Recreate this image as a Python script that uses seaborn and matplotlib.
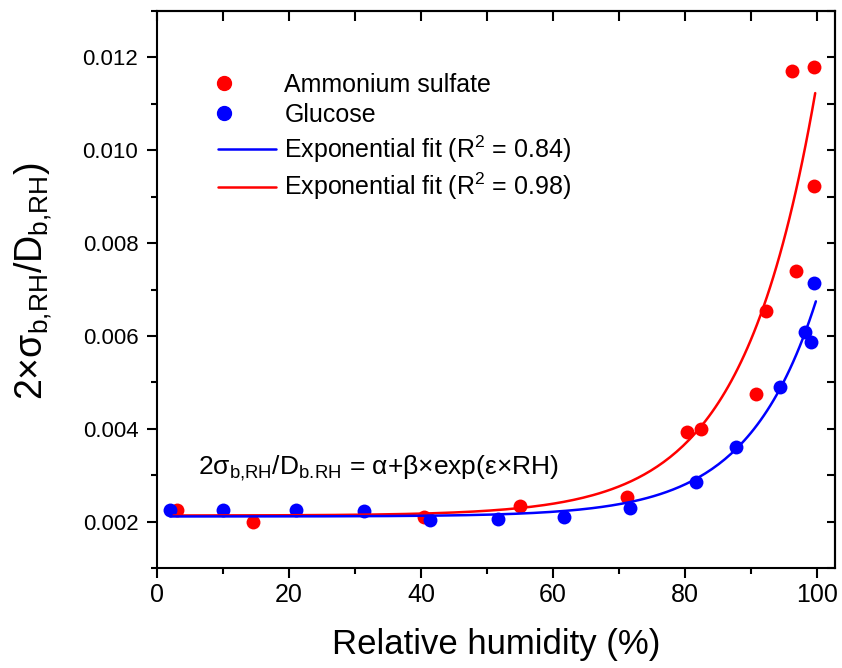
import numpy as np
import pandas as pd
import matplotlib
matplotlib.use("Agg")
import matplotlib.pyplot as plt
import seaborn as sns
from matplotlib.ticker import MultipleLocator, FormatStrFormatter
from matplotlib.lines import Line2D
from matplotlib.legend_handler import HandlerLine2D

# Ammonium sulfate measurements (red)
as_rh = [2.95, 14.5, 40.4, 55.0, 71.2, 80.3, 82.4, 90.8, 92.3, 96.8, 96.2, 99.5, 99.5]
as_val = [0.00224, 0.00199, 0.00209, 0.00233, 0.00252, 0.00392, 0.00399,
          0.00475, 0.00654, 0.00740, 0.01171, 0.01179, 0.00923]

# Glucose measurements (blue)
glu_rh = [1.95, 10.0, 21.0, 31.3, 41.4, 51.7, 61.7, 71.7, 81.7, 87.7, 94.4, 98.1, 99.1, 99.5]
glu_val = [0.00224, 0.00226, 0.00226, 0.00222, 0.00203, 0.00206, 0.00209,
           0.00229, 0.00285, 0.00361, 0.00491, 0.00609, 0.00586, 0.00715]

# exponential fit parameters: alpha, beta, epsilon, rh range
as_fit = (0.00213, 1.154e-6, 0.090, 2.5, 99.7)
glu_fit = (0.00211, 3.2e-7, 0.096, 2.0, 99.8)

sns.set_theme(style="ticks")
plt.rcParams["font.family"] = ["Liberation Sans", "DejaVu Sans"]
plt.rcParams["mathtext.fontset"] = "custom"
plt.rcParams["mathtext.rm"] = "Liberation Sans"
plt.rcParams["mathtext.it"] = "Liberation Sans:italic"
plt.rcParams["axes.linewidth"] = 1.5
for k in ["text.color", "axes.labelcolor", "xtick.color", "ytick.color", "axes.edgecolor"]:
    plt.rcParams[k] = "black"


def fit_curve(p):
    a, b, e, x0, x1 = p
    x = np.linspace(x0, x1, 200)
    return pd.DataFrame({"rh": x, "val": a + b * np.exp(e * x)})


class LeftDot(HandlerLine2D):
    # put the legend dot near the left end of the handle, like Origin does
    def get_xdata(self, legend, xdescent, ydescent, width, height, fontsize):
        x = np.array([-xdescent + 0.1 * width])
        return x, x


df_as = pd.DataFrame({"rh": as_rh, "val": as_val})
df_glu = pd.DataFrame({"rh": glu_rh, "val": glu_val})

fig, ax = plt.subplots(figsize=(8.42, 6.68), dpi=100)
fig.subplots_adjust(left=0.1865, right=0.9917, bottom=0.1497, top=0.9835)

sns.scatterplot(data=df_as, x="rh", y="val", color="#ff0000", s=100, linewidth=0, ax=ax, zorder=3)
sns.scatterplot(data=df_glu, x="rh", y="val", color="#0000ff", s=100, linewidth=0, ax=ax, zorder=4)
sns.lineplot(data=fit_curve(as_fit), x="rh", y="val", color="#ff0000", lw=1.8, ax=ax, zorder=5)
sns.lineplot(data=fit_curve(glu_fit), x="rh", y="val", color="#0000ff", lw=1.8, ax=ax, zorder=5)

ax.set_xlim(0, 102.7)
ax.set_ylim(0.001, 0.013)
ax.xaxis.set_major_locator(MultipleLocator(20))
ax.xaxis.set_minor_locator(MultipleLocator(10))
ax.yaxis.set_major_locator(MultipleLocator(0.002))
ax.yaxis.set_minor_locator(MultipleLocator(0.001))
ax.yaxis.set_major_formatter(FormatStrFormatter("%.3f"))
ax.tick_params(which="major", direction="out", length=7.5, width=1.5, pad=3.5)
ax.tick_params(which="minor", direction="out", length=4, width=1.5)
ax.tick_params(axis="x", labelsize=18)
ax.tick_params(axis="y", labelsize=16, pad=6)

# mirrored ticks pointing inward on top and right
top = ax.secondary_xaxis("top")
top.xaxis.set_major_locator(MultipleLocator(20))
top.xaxis.set_minor_locator(MultipleLocator(10))
top.tick_params(which="both", direction="in", length=7, width=1.5, labeltop=False)
right = ax.secondary_yaxis("right")
right.yaxis.set_major_locator(MultipleLocator(0.002))
right.yaxis.set_minor_locator(MultipleLocator(0.001))
right.tick_params(which="both", direction="in", length=6, width=1.5, labelright=False)

ax.set_xlabel("Relative humidity (%)", fontsize=25, labelpad=15)
ax.set_ylabel(r"2×σ$_{\rm b{,}RH}$/D$_{\rm b{,}RH}$)", fontsize=27)
ax.yaxis.set_label_coords(-0.152, 0.515)

ax.text(6.2, 0.003011, r"2σ$_{\rm b{,}RH}$/D$_{\rm b.\!RH}$ = α+β×exp(ε×RH)",
        fontsize=19, va="baseline", ha="left")

handles = [
    Line2D([], [], marker="o", color="#ff0000", ls="none", markersize=10),
    Line2D([], [], marker="o", color="#0000ff", ls="none", markersize=10),
    Line2D([], [], color="#0000ff", lw=1.8),
    Line2D([], [], color="#ff0000", lw=1.8),
]
labels = ["Ammonium sulfate", "Glucose",
          r"Exponential fit (R$^{2}$ = 0.84)", r"Exponential fit (R$^{2}$ = 0.98)"]
ax.legend(handles, labels, loc="upper left", bbox_to_anchor=(0.09, 0.889), frameon=False,
          fontsize=18, handlelength=2.3, handletextpad=0.35, labelspacing=0.25,
          borderpad=0, borderaxespad=0,
          handler_map={handles[0]: LeftDot(), handles[1]: LeftDot()})

fig.savefig("out.png", dpi=100)
